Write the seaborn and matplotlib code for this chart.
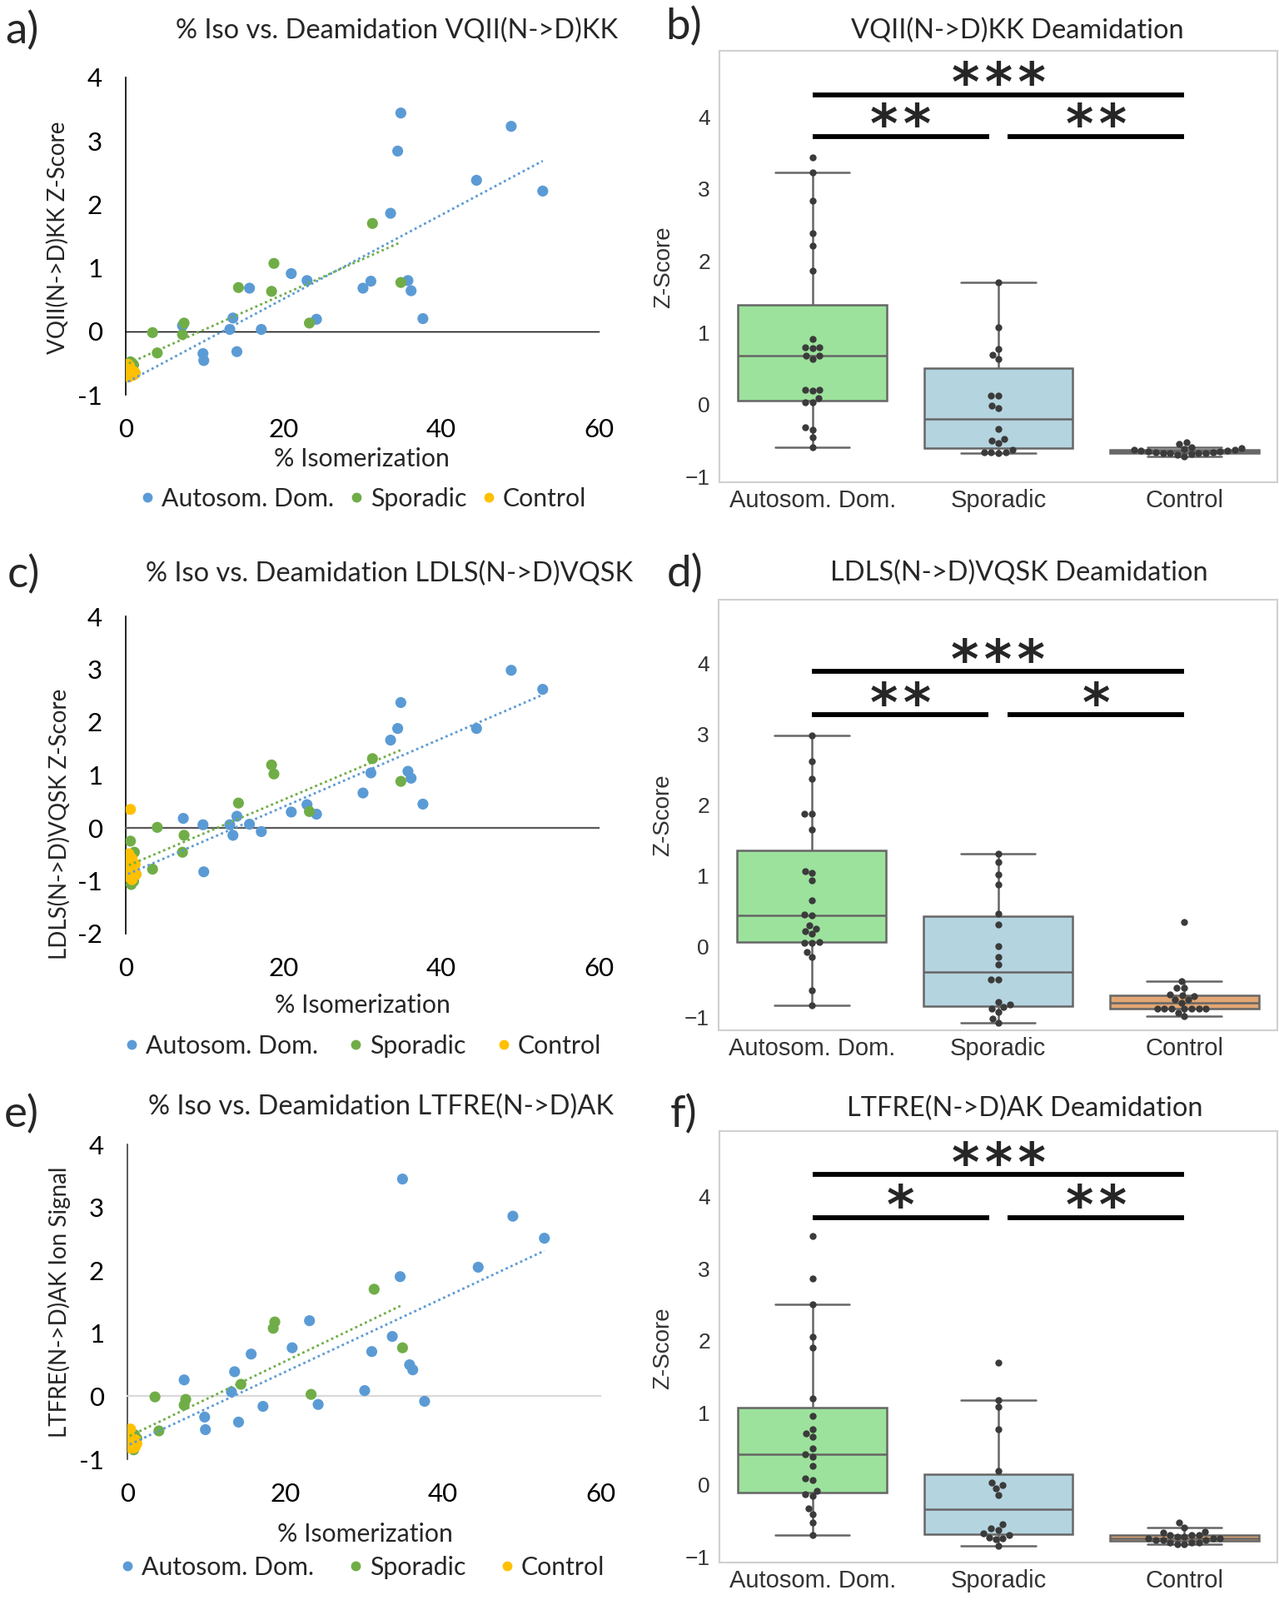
import matplotlib
matplotlib.use("Agg")
import matplotlib.pyplot as plt
from matplotlib.lines import Line2D
import numpy as np
import pandas as pd
import seaborn as sns

# Output size in pixels; dpi 100 keeps 1 pt close to 1.39 px.
W, H, DPI = 1536, 1921, 100

GROUPS = ["Autosom. Dom.", "Sporadic", "Control"]
SCATTER_COLORS = ["#5b9bd5", "#70ad47", "#ffc000"]
BOX_PALETTE = ["lightgreen", "lightblue", "sandybrown"]
ISO_TICKS = [0, 20, 40, 60]

# --- VQII(N->D)KK ---
VQII_AD_ISO = [34.9, 34.5, 48.9, 44.5, 52.9, 33.6, 21.0, 23.0, 15.7, 30.1, 31.1, 35.8,
               36.2, 37.7, 24.2, 13.6, 13.2, 17.2, 7.2, 9.8, 9.9, 14.1, 0.3]
VQII_AD_Z = [3.44, 2.84, 3.23, 2.38, 2.21, 1.86, 0.91, 0.80, 0.68, 0.68, 0.79, 0.80,
             0.64, 0.20, 0.19, 0.21, 0.03, 0.03, 0.09, -0.35, -0.46, -0.32, -0.59]
VQII_SP_ISO = [31.3, 18.8, 34.9, 14.3, 18.5, 23.3, 7.4, 3.4, 7.2, 4.0, 0.8, 1.0, 0.6,
               0.4, 1.2, 0.7, 0.9, 0.5]
VQII_SP_Z = [1.70, 1.07, 0.77, 0.69, 0.63, 0.13, 0.13, -0.02, -0.05, -0.34, -0.50, -0.53,
             -0.48, -0.63, -0.66, -0.66, -0.66, -0.68]
VQII_CT_ISO = [0.3, 0.5, 0.2, 0.7, 0.4, 0.9, 0.3, 0.6, 1.1, 0.2, 0.8, 0.4, 1.2, 0.5,
               0.3, 0.7, 0.2, 1.0, 0.6, 0.4]
VQII_CT_Z = [-0.52, -0.55, -0.59, -0.61, -0.62, -0.63, -0.63, -0.64, -0.64, -0.65, -0.65,
             -0.66, -0.66, -0.67, -0.67, -0.68, -0.68, -0.69, -0.70, -0.72]

# --- LDLS(N->D)VQSK ---
LDLS_AD_ISO = [48.9, 52.9, 34.9, 34.5, 44.5, 33.6, 35.8, 31.1, 36.2, 30.1, 23.0, 37.7,
               21.0, 24.2, 14.1, 7.3, 9.8, 13.2, 15.7, 17.2, 13.6, 9.9, 0.3]
LDLS_AD_Z = [2.98, 2.62, 2.37, 1.88, 1.88, 1.66, 1.07, 1.04, 0.94, 0.66, 0.44, 0.45,
             0.30, 0.26, 0.22, 0.18, 0.06, 0.06, 0.07, -0.07, -0.14, -0.83, -0.61]
LDLS_SP_ISO = [31.3, 18.5, 18.8, 34.9, 14.3, 23.3, 4.0, 7.4, 0.6, 7.2, 1.1, 3.4, 0.4,
               0.9, 1.3, 0.5, 1.0, 0.7]
LDLS_SP_Z = [1.31, 1.19, 1.02, 0.88, 0.47, 0.31, 0.01, -0.14, -0.25, -0.46, -0.46, -0.78,
             -0.82, -0.85, -0.88, -0.92, -1.01, -1.07]
LDLS_CT_ISO = [0.6, 0.4, 0.3, 0.8, 0.5, 1.2, 0.2, 0.9, 0.4, 0.7, 1.3, 0.3, 0.6, 1.0,
               0.2, 0.5, 1.1, 0.4, 0.8]
LDLS_CT_Z = [0.35, -0.49, -0.58, -0.58, -0.68, -0.69, -0.70, -0.75, -0.75, -0.79, -0.88,
             -0.88, -0.88, -0.88, -0.88, -0.88, -0.88, -0.93, -0.98]

# --- LTFRE(N->D)AK ---
LTFRE_AD_ISO = [34.9, 48.9, 52.9, 44.5, 34.6, 23.1, 33.6, 20.9, 31.0, 15.7, 35.8, 36.2,
                13.6, 7.2, 30.1, 13.2, 37.7, 24.2, 17.2, 9.8, 14.1, 9.9, 0.3]
LTFRE_AD_Z = [3.45, 2.86, 2.51, 2.05, 1.90, 1.20, 0.95, 0.77, 0.71, 0.67, 0.50, 0.42,
              0.39, 0.26, 0.09, 0.07, -0.08, -0.13, -0.16, -0.33, -0.41, -0.53, -0.70]
LTFRE_SP_ISO = [31.3, 18.7, 18.5, 34.9, 14.4, 23.3, 3.5, 7.4, 7.2, 4.0, 0.9, 0.5, 1.2,
                0.7, 0.3, 1.0, 0.6, 0.8]
LTFRE_SP_Z = [1.70, 1.18, 1.08, 0.77, 0.19, 0.03, -0.01, -0.05, -0.14, -0.55, -0.61, -0.63,
              -0.67, -0.70, -0.73, -0.74, -0.76, -0.85]
LTFRE_CT_ISO = [0.4, 0.3, 0.6, 0.2, 0.8, 0.5, 1.1, 0.3, 0.7, 0.4, 1.2, 0.2, 0.6, 0.9,
                0.5, 0.3, 1.0, 0.7, 0.4, 0.8]
LTFRE_CT_Z = [-0.52, -0.59, -0.65, -0.66, -0.70, -0.70, -0.70, -0.72, -0.72, -0.75, -0.75,
              -0.75, -0.77, -0.77, -0.77, -0.80, -0.80, -0.80, -0.82, -0.82]

# Significance marks per box panel: label, group span and bar height (z units).
SIG_PAIRS = [(0, 0.95), (1.05, 2.0), (0, 2.0)]
VQII_SIG = ["**", "**", "***"]
LDLS_SIG = ["**", "*", "***"]
LTFRE_SIG = ["*", "**", "***"]
VQII_SIG_LEVELS = [3.73, 3.73, 4.31]
LDLS_SIG_LEVELS = [3.28, 3.28, 3.89]
LTFRE_SIG_LEVELS = [3.71, 3.71, 4.31]

# Layout in output pixels: rects are (left, top, right, bottom), points are (x, y).
PANELS = [
    dict(pep="VQII(N->D)KK", ylabel="VQII(N->D)KK Z-Score", ymin=-1,
         iso=(VQII_AD_ISO, VQII_SP_ISO, VQII_CT_ISO), z=(VQII_AD_Z, VQII_SP_Z, VQII_CT_Z),
         sig=VQII_SIG, sig_levels=VQII_SIG_LEVELS, box_ylim=(-1.08, 4.92),
         sc_rect=(151, 93, 719, 474), bx_rect=(864, 61, 1534, 579),
         zero_color="black", zero_lw=1.0, ytick_len=0, xtick_len=0,
         letters=("a)", (26, 37), "b)", (821, 32)),
         sc_title=(477, 37), bx_title=(1222, 37), sc_ylab=(69, 285), sc_xlab=(434, 551),
         legend=(437, 599), legend_gap=0.65, bx_ylab=(797, 321)),
    dict(pep="LDLS(N->D)VQSK", ylabel="LDLS(N->D)VQSK Z-Score", ymin=-2,
         iso=(LDLS_AD_ISO, LDLS_SP_ISO, LDLS_CT_ISO), z=(LDLS_AD_Z, LDLS_SP_Z, LDLS_CT_Z),
         sig=LDLS_SIG, sig_levels=LDLS_SIG_LEVELS, box_ylim=(-1.18, 4.90),
         sc_rect=(151, 740, 719, 1121), bx_rect=(863, 720, 1534, 1237),
         zero_color="#595959", zero_lw=1.6, ytick_len=0, xtick_len=0,
         letters=("c)", (28, 690), "d)", (823, 689)),
         sc_title=(468, 689), bx_title=(1224, 688), sc_ylab=(71, 989), sc_xlab=(435, 1207),
         legend=(436, 1256), legend_gap=1.25, bx_ylab=(796, 979)),
    dict(pep="LTFRE(N->D)AK", ylabel="LTFRE(N->D)AK Ion Signal", ymin=-1,
         iso=(LTFRE_AD_ISO, LTFRE_SP_ISO, LTFRE_CT_ISO), z=(LTFRE_AD_Z, LTFRE_SP_Z, LTFRE_CT_Z),
         sig=LTFRE_SIG, sig_levels=LTFRE_SIG_LEVELS, box_ylim=(-1.08, 4.91),
         sc_rect=(153, 1374, 721, 1752), bx_rect=(864, 1358, 1534, 1876),
         zero_color="#d9d9d9", zero_lw=1.6, ytick_len=7, xtick_len=7,
         letters=("e)", (26, 1338), "f)", (821, 1338)),
         sc_title=(457, 1329), bx_title=(1231, 1331), sc_ylab=(71, 1563), sc_xlab=(438, 1842),
         legend=(436, 1882), legend_gap=1.4, bx_ylab=(796, 1619)),
]

EXCEL_FONT = ["Lato", "DejaVu Sans"]
BOX_FONT = "Liberation Sans"
TITLE_SIZE = 23.5
TICK_SIZE = 22.5
LABEL_SIZE = 21.8
YLABEL_SIZE = 20
LETTER_SIZE = 38


def px_rect(left, top, right, bottom):
    return [left / W, 1 - bottom / H, (right - left) / W, (bottom - top) / H]


def fig_xy(x, y):
    return x / W, 1 - y / H


def long_frame(iso, z):
    rows = []
    for grp, xs, ys in zip(GROUPS, iso, z):
        rows.append(pd.DataFrame({"group": grp, "iso": xs, "z": ys}))
    return pd.concat(rows, ignore_index=True)


def draw_scatter_panel(fig, spec):
    """Excel-style scatter: % isomerization vs z-score with dotted linear trends."""
    ax = fig.add_axes(px_rect(*spec["sc_rect"]))
    df = long_frame(spec["iso"], spec["z"])
    sns.scatterplot(data=df, x="iso", y="z", hue="group", hue_order=GROUPS,
                    palette=SCATTER_COLORS, s=90, linewidth=0, legend=False,
                    ax=ax, zorder=3)
    # Trend lines only for the two patient groups, spanning their own data range.
    for grp, col in zip(GROUPS[:2], SCATTER_COLORS[:2]):
        sns.regplot(data=df[df["group"] == grp], x="iso", y="z", scatter=False,
                    ci=None, truncate=True, color=col, ax=ax,
                    line_kws=dict(lw=2.0, ls=(0, (1, 1.3)), zorder=4))
    ax.set_xlim(0, 60)
    ax.set_ylim(spec["ymin"], 4)
    ax.set_xlabel("")
    ax.set_ylabel("")

    yt = list(range(spec["ymin"], 5))
    ax.set_yticks(yt)
    ax.set_yticklabels([str(v) for v in yt])
    ax.tick_params(axis="y", length=spec["ytick_len"], width=1.2, color="#404040",
                   pad=20 - spec["ytick_len"], labelsize=TICK_SIZE, labelcolor="black")
    for side in ("top", "right"):
        ax.spines[side].set_visible(False)
    ax.spines["left"].set_color("black" if spec["ytick_len"] == 0 else "#404040")
    ax.spines["left"].set_linewidth(1.2)

    # Horizontal axis line sits at z = 0; tick labels stay at the bottom.
    ax.spines["bottom"].set_position(("data", 0))
    ax.spines["bottom"].set_color(spec["zero_color"])
    ax.spines["bottom"].set_linewidth(spec["zero_lw"])
    ax.set_xticks(ISO_TICKS)
    ax.tick_params(axis="x", labelbottom=False, length=spec["xtick_len"],
                   color=spec["zero_color"], width=1.4)
    sec = ax.secondary_xaxis("bottom")
    sec.set_xticks(ISO_TICKS)
    sec.spines["bottom"].set_visible(False)
    sec.tick_params(length=0, pad=20, labelsize=TICK_SIZE, labelcolor="black")

    fig.text(*fig_xy(*spec["sc_title"]), "% Iso vs. Deamidation " + spec["pep"],
             ha="center", va="center", fontsize=TITLE_SIZE)
    fig.text(*fig_xy(*spec["sc_ylab"]), spec["ylabel"], rotation=90,
             ha="center", va="center", fontsize=YLABEL_SIZE)
    fig.text(*fig_xy(*spec["sc_xlab"]), "% Isomerization",
             ha="center", va="center", fontsize=LABEL_SIZE)

    handles = [Line2D([], [], marker="o", ls="", color=c, markersize=7.5)
               for c in SCATTER_COLORS]
    ax.legend(handles, GROUPS, loc="center", bbox_to_anchor=fig_xy(*spec["legend"]),
              bbox_transform=fig.transFigure, ncol=3, frameon=False, fontsize=LABEL_SIZE,
              handlelength=0.5, handletextpad=0.3, columnspacing=spec["legend_gap"],
              borderpad=0, borderaxespad=0)


def draw_box_panel(fig, spec):
    """Seaborn box + swarm of z-scores per group with significance bars."""
    ax = fig.add_axes(px_rect(*spec["bx_rect"]))
    df = long_frame(spec["iso"], spec["z"])
    sns.boxplot(data=df, x="group", y="z", hue="group", order=GROUPS, hue_order=GROUPS,
                palette=BOX_PALETTE, width=0.8, showfliers=False, linewidth=1.8,
                linecolor="#666666", legend=False, ax=ax)
    sns.swarmplot(data=df, x="group", y="z", order=GROUPS, color="#3b3b3b",
                  size=6, ax=ax)
    ax.set_ylim(*spec["box_ylim"])
    ax.set_xlim(-0.5, 2.5)
    ax.set_xlabel("")
    ax.set_ylabel("")
    ax.set_yticks(range(-1, 5))
    ax.tick_params(axis="x", length=0, pad=6, labelsize=21, labelcolor="#333333",
                   labelfontfamily=BOX_FONT)
    ax.tick_params(axis="y", length=0, pad=8, labelsize=19, labelcolor="#333333",
                   labelfontfamily=BOX_FONT)
    for sp in ax.spines.values():
        sp.set_visible(True)
        sp.set_color("#d0d0d0")
        sp.set_linewidth(1.5)

    for label, (x0, x1), level in zip(spec["sig"], SIG_PAIRS, spec["sig_levels"]):
        ax.plot([x0, x1], [level, level], color="black", lw=4.2, solid_capstyle="butt")
        ax.text((x0 + x1) / 2, level + 0.12, "\u200a".join(label), ha="center",
                va="center", fontsize=46, fontweight="bold", family="DejaVu Sans")

    fig.text(*fig_xy(*spec["bx_title"]), spec["pep"] + " Deamidation",
             ha="center", va="center", fontsize=TITLE_SIZE)
    fig.text(*fig_xy(*spec["bx_ylab"]), "Z-Score", rotation=90, ha="center",
             va="center", fontsize=20, color="#333333", family=BOX_FONT)


def main():
    sns.set_style("white")
    plt.rcParams["font.family"] = EXCEL_FONT
    fig = plt.figure(figsize=(W / DPI, H / DPI), dpi=DPI, facecolor="white")
    for spec in PANELS:
        draw_scatter_panel(fig, spec)
        draw_box_panel(fig, spec)
        left, lpos, right, rpos = spec["letters"]
        fig.text(*fig_xy(*lpos), left, ha="center", va="center", fontsize=LETTER_SIZE)
        fig.text(*fig_xy(*rpos), right, ha="center", va="center", fontsize=LETTER_SIZE)
    fig.savefig("out.png", dpi=DPI, facecolor="white")


if __name__ == "__main__":
    main()
